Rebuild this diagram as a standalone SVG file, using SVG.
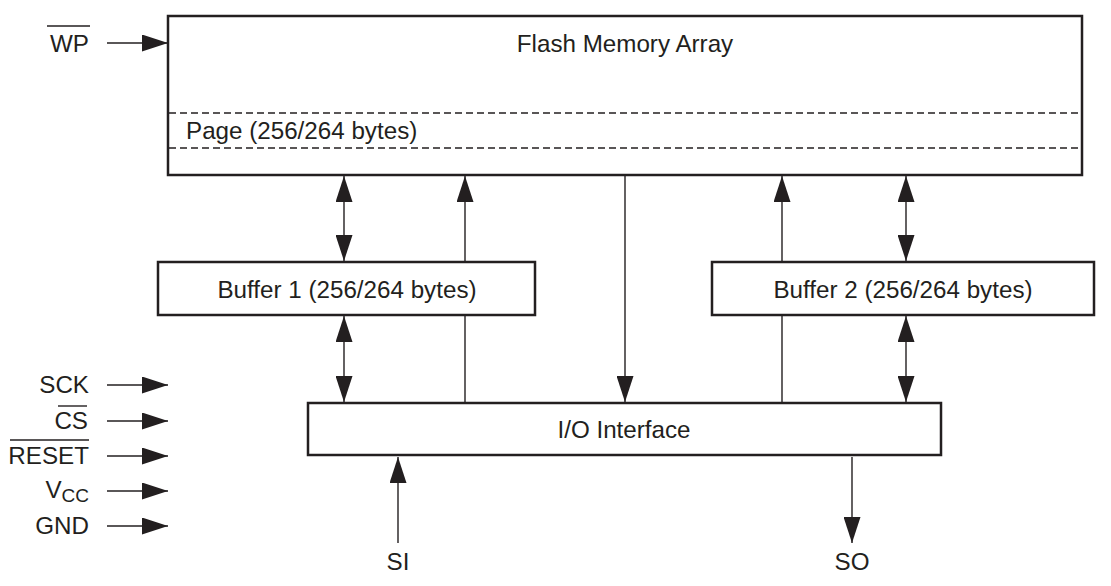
<svg xmlns="http://www.w3.org/2000/svg" width="1111" height="586" viewBox="0 0 1111 586">
<style>
.box{fill:#fff;stroke:#231f20;stroke-width:2.5}
.dash{stroke:#231f20;stroke-width:1.3;stroke-dasharray:7 4;fill:none}
.ln{stroke:#231f20;stroke-width:1.4;fill:none}
.t{font-family:"Liberation Sans",Arial,sans-serif;font-size:24.2px;fill:#231f20}
.m{text-anchor:middle}
.e{text-anchor:end}
.ol{stroke:#231f20;stroke-width:1.4}
</style>
<defs>
<marker id="ah" viewBox="0 0 26 17" refX="26" refY="8.5" markerWidth="26" markerHeight="17" markerUnits="userSpaceOnUse" orient="auto-start-reverse">
<path d="M0,0 L26,8.5 L0,17 z" fill="#231f20"/>
</marker>
</defs>
<rect width="1111" height="586" fill="#fff"/>
<g id="connectors">
<line class="ln" x1="107" y1="43" x2="168" y2="43" marker-end="url(#ah)"/>
<line class="ln" x1="107" y1="385" x2="168" y2="385" marker-end="url(#ah)"/>
<line class="ln" x1="107" y1="421" x2="168" y2="421" marker-end="url(#ah)"/>
<line class="ln" x1="107" y1="456" x2="168" y2="456" marker-end="url(#ah)"/>
<line class="ln" x1="107" y1="491" x2="168" y2="491" marker-end="url(#ah)"/>
<line class="ln" x1="107" y1="526" x2="168" y2="526" marker-end="url(#ah)"/>
<line class="ln" x1="344" y1="176" x2="344" y2="261" marker-start="url(#ah)" marker-end="url(#ah)"/>
<line class="ln" x1="344" y1="316" x2="344" y2="402" marker-start="url(#ah)" marker-end="url(#ah)"/>
<line class="ln" x1="465" y1="402" x2="465" y2="176" marker-end="url(#ah)"/>
<line class="ln" x1="625" y1="176" x2="625" y2="402" marker-end="url(#ah)"/>
<line class="ln" x1="782" y1="402" x2="782" y2="176" marker-end="url(#ah)"/>
<line class="ln" x1="906" y1="176" x2="906" y2="261" marker-start="url(#ah)" marker-end="url(#ah)"/>
<line class="ln" x1="906" y1="316" x2="906" y2="402" marker-start="url(#ah)" marker-end="url(#ah)"/>
<line class="ln" x1="398" y1="543" x2="398" y2="457" marker-end="url(#ah)"/>
<line class="ln" x1="852" y1="457" x2="852" y2="543" marker-end="url(#ah)"/>
</g>
<g id="flash">
<rect class="box" x="168" y="16" width="914" height="159"/>
<line class="dash" x1="169" y1="113" x2="1081" y2="113"/>
<line class="dash" x1="169" y1="148" x2="1081" y2="148"/>
<text class="t m" x="625" y="52">Flash Memory Array</text>
<text class="t" x="186" y="139">Page (256/264 bytes)</text>
</g>
<g id="buffer1">
<rect class="box" x="158" y="262" width="377" height="53"/>
<text class="t m" x="347" y="298">Buffer 1 (256/264 bytes)</text>
</g>
<g id="buffer2">
<rect class="box" x="712" y="262" width="382" height="53"/>
<text class="t m" x="903" y="298">Buffer 2 (256/264 bytes)</text>
</g>
<g id="io">
<rect class="box" x="308" y="403" width="633" height="52"/>
<text class="t m" x="624" y="438">I/O Interface</text>
</g>
<g id="pins">
<text class="t e" x="89" y="52">WP</text>
<line class="ol" x1="47" y1="26" x2="90" y2="26"/>
<text class="t e" x="89" y="393">SCK</text>
<text class="t e" x="88" y="429">CS</text>
<line class="ol" x1="58" y1="406" x2="87" y2="406"/>
<text class="t e" x="89" y="464">RESET</text>
<line class="ol" x1="10" y1="440" x2="89" y2="440"/>
<text class="t e" x="89" y="498">V<tspan font-size="19" dy="4">CC</tspan></text>
<text class="t e" x="89" y="534">GND</text>
<text class="t m" x="398" y="570">SI</text>
<text class="t m" x="852" y="570">SO</text>
</g>
</svg>
